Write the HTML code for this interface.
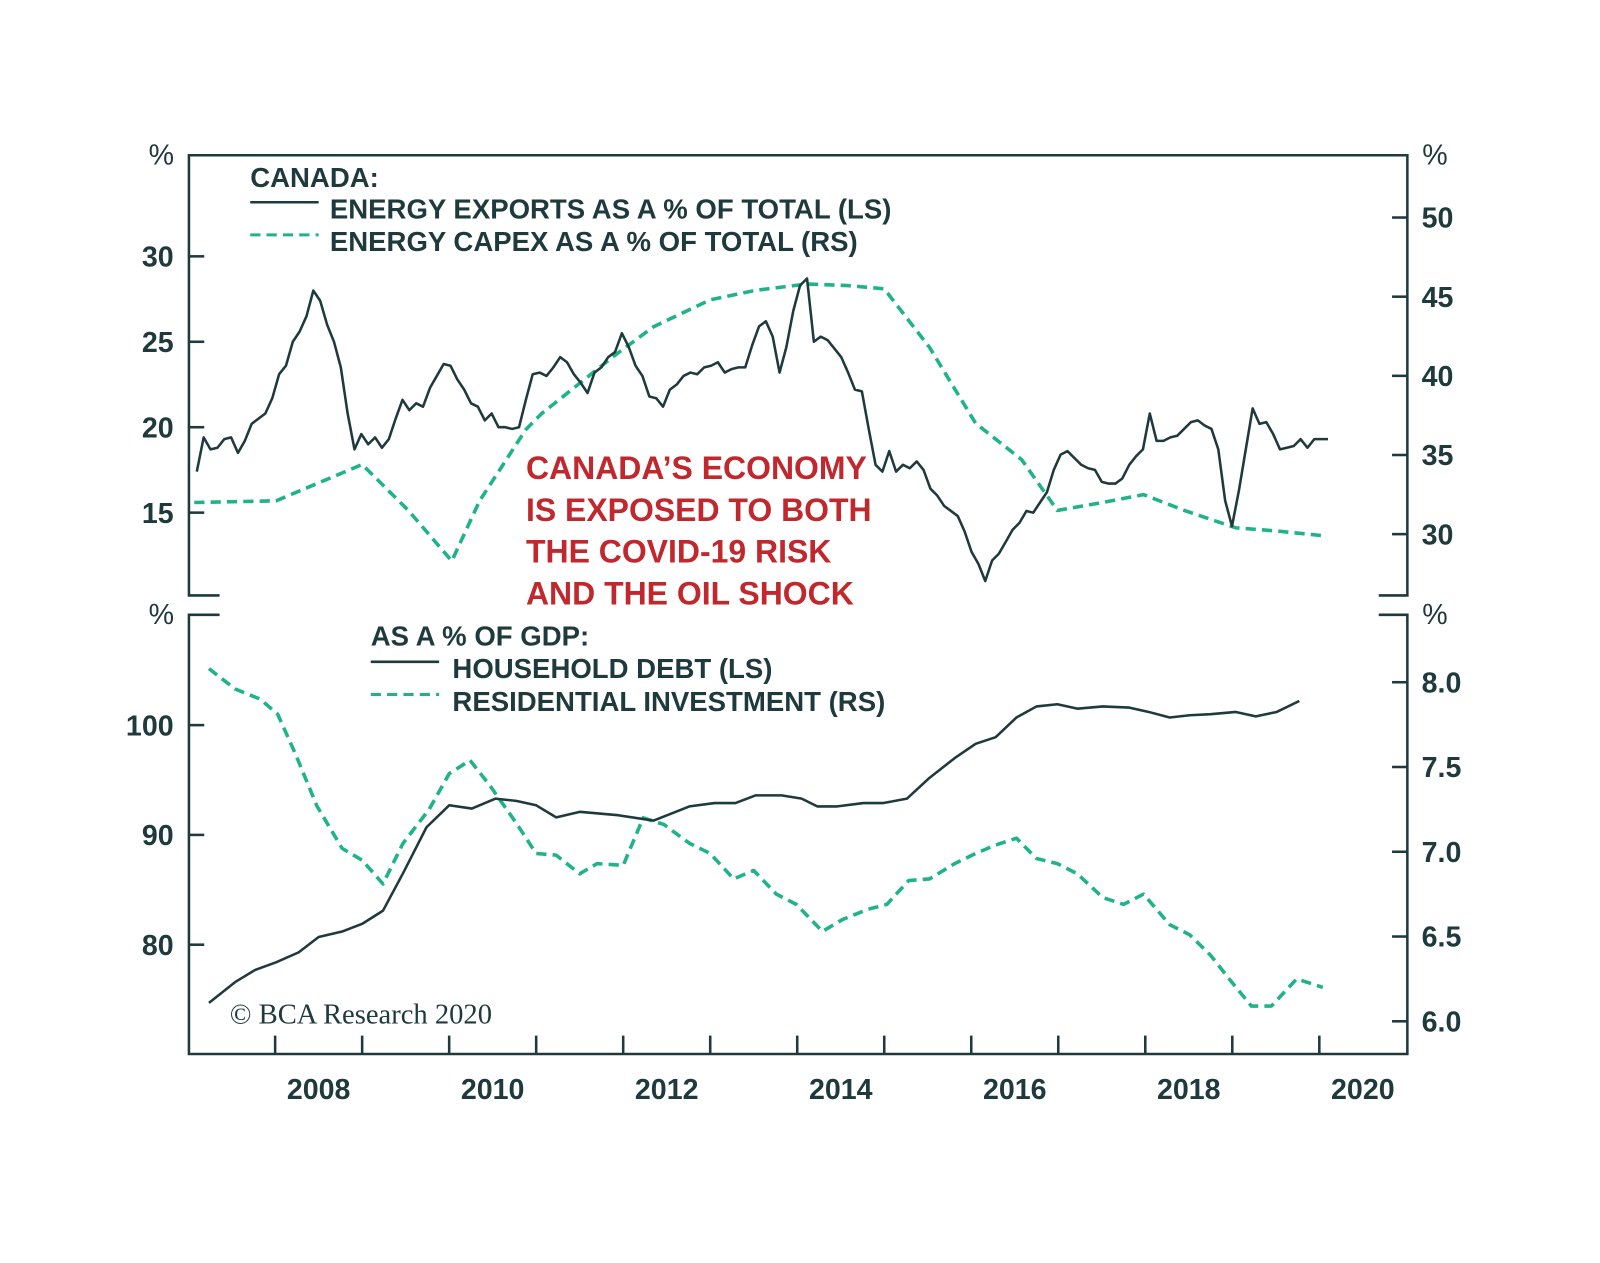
<!DOCTYPE html>
<html><head><meta charset="utf-8"><style>
html,body{margin:0;padding:0;background:#fff;}
svg{display:block;font-family:"Liberation Sans",sans-serif;}
</style></head><body>
<svg id="chart" width="1600" height="1263" viewBox="0 0 1600 1263" xmlns="http://www.w3.org/2000/svg">
<g transform="scale(1.0213)">
<g id="frame" stroke="#1f3a3d" stroke-width="2.5" fill="none">
<path d="M215,583 H185 V152 H1378 V583 H1350"/>
<path d="M215,602 H185 V1032 H1378 V602 H1350"/>
</g>
<g id="ticks" stroke="#1f3a3d" stroke-width="2.5"></g>
<g id="labels" fill="#1f3a3d" font-size="28" font-weight="bold"></g>
<g id="series" fill="none"></g>
<g fill="#1f3a3d" font-size="27" font-weight="bold">
<text x="245" y="183">CANADA:</text>
<line x1="245" y1="198" x2="312" y2="198" stroke="#1f3a3d" stroke-width="2.5"/>
<text x="323" y="214">ENERGY EXPORTS AS A % OF TOTAL (LS)</text>
<line x1="245" y1="230" x2="312" y2="230" stroke="#1fb389" stroke-width="3" stroke-dasharray="10,6"/>
<text x="323" y="246">ENERGY CAPEX AS A % OF TOTAL (RS)</text>
</g>
<g fill="#1f3a3d" font-size="27" font-weight="bold">
<text x="363" y="632">AS A % OF GDP:</text>
<line x1="363" y1="648" x2="430" y2="648" stroke="#1f3a3d" stroke-width="2.5"/>
<text x="443" y="664">HOUSEHOLD DEBT (LS)</text>
<line x1="363" y1="680" x2="430" y2="680" stroke="#1fb389" stroke-width="3" stroke-dasharray="10,6"/>
<text x="443" y="696">RESIDENTIAL INVESTMENT (RS)</text>
</g>
<g fill="#c0282d" font-size="31.3" font-weight="bold">
<text x="515" y="469">CANADA’S ECONOMY</text>
<text x="515" y="510">IS EXPOSED TO BOTH</text>
<text x="515" y="551">THE COVID-19 RISK</text>
<text x="515" y="592">AND THE OIL SHOCK</text>
</g>
<text x="225" y="1002" font-family="Liberation Serif,serif" font-size="28" fill="#1f3a3d">© BCA Research 2020</text>
</g>
</svg>
<script>
const exportsVals=[17.4,19.4,18.7,18.8,19.3,19.4,18.5,19.2,20.2,20.5,20.8,21.7,23.1,23.6,25.0,25.6,26.5,28.0,27.4,26.0,25.0,23.5,20.8,18.7,19.6,19.0,19.4,18.8,19.3,20.5,21.6,21.0,21.4,21.2,22.3,23.0,23.7,23.6,22.8,22.2,21.4,21.2,20.4,20.8,20.0,20.0,19.9,20.0,21.6,23.1,23.2,23.0,23.5,24.1,23.8,23.1,22.6,22.0,23.2,23.5,24.1,24.4,25.5,24.7,23.6,23.0,21.8,21.7,21.2,22.2,22.5,23.0,23.2,23.1,23.5,23.6,23.8,23.2,23.4,23.5,23.5,24.8,25.9,26.2,25.3,23.2,24.7,26.8,28.3,28.7,25.0,25.3,25.1,24.6,24.1,23.2,22.2,22.1,19.9,17.8,17.4,18.6,17.4,17.8,17.6,18.0,17.5,16.4,16.0,15.4,15.1,14.8,13.9,12.7,12.0,11.0,12.2,12.6,13.3,14.0,14.4,15.1,15.0,15.6,16.2,17.5,18.4,18.6,18.2,17.8,17.6,17.5,16.8,16.7,16.7,17.0,17.8,18.3,18.7,20.8,19.2,19.2,19.4,19.5,19.9,20.3,20.4,20.1,19.9,18.7,15.7,14.2,16.3,18.7,21.1,20.2,20.3,19.6,18.7,18.8,18.9,19.3,18.8,19.3,19.3,19.3];
const exportsStart=2006.6, exportsEnd=2019.6;
const capexYears=[2006.57,2007.51,2008.5,2009.03,2009.53,2009.85,2010.38,2010.56,2011.38,2011.85,2012.5,2013.02,2013.61,2014.08,2014.5,2015.02,2015.55,2016.08,2016.49,2017.01,2017.48,2017.95,2018.54,2019.01,2019.54];
const capexVals=[32.0,32.1,34.4,31.5,28.3,32.1,36.6,37.6,41.2,43.1,44.8,45.4,45.8,45.7,45.5,41.8,37.0,34.7,31.5,32.0,32.5,31.5,30.4,30.2,29.9];
const debtYears=[2006.74,2007.04,2007.27,2007.51,2007.77,2008.0,2008.27,2008.5,2008.74,2008.97,2009.24,2009.5,2009.76,2010.03,2010.27,2010.5,2010.73,2011.0,2011.44,2011.85,2012.26,2012.55,2012.79,2013.02,2013.32,2013.55,2013.73,2013.96,2014.26,2014.49,2014.76,2015.02,2015.31,2015.55,2015.78,2016.02,2016.25,2016.49,2016.72,2017.01,2017.31,2017.54,2017.78,2018.01,2018.25,2018.54,2018.77,2019.01,2019.27];
const debtVals=[74.7,76.6,77.7,78.4,79.3,80.7,81.2,81.9,83.1,86.5,90.7,92.7,92.4,93.3,93.1,92.7,91.6,92.1,91.8,91.3,92.6,92.9,92.9,93.6,93.6,93.3,92.6,92.6,92.9,92.9,93.3,95.2,97.0,98.3,98.9,100.7,101.7,101.9,101.5,101.7,101.6,101.2,100.7,100.9,101.0,101.2,100.8,101.2,102.2];
const resYears=[2006.74,2007.04,2007.33,2007.53,2007.74,2007.98,2008.27,2008.5,2008.74,2008.97,2009.27,2009.5,2009.74,2009.97,2010.27,2010.5,2010.73,2011.0,2011.2,2011.5,2011.73,2011.97,2012.26,2012.5,2012.77,2013.0,2013.26,2013.49,2013.79,2014.02,2014.31,2014.53,2014.78,2015.02,2015.31,2015.55,2015.78,2016.02,2016.25,2016.49,2016.72,2017.01,2017.25,2017.48,2017.78,2018.01,2018.25,2018.48,2018.72,2018.95,2019.24,2019.54];
const resVals=[8.08,7.96,7.90,7.81,7.57,7.27,7.02,6.95,6.81,7.05,7.25,7.46,7.54,7.39,7.17,6.99,6.98,6.87,6.93,6.92,7.20,7.16,7.05,6.99,6.84,6.89,6.75,6.69,6.53,6.60,6.66,6.69,6.83,6.84,6.93,6.99,7.04,7.08,6.96,6.93,6.87,6.73,6.69,6.75,6.57,6.51,6.39,6.24,6.09,6.09,6.25,6.20];
const topLeftTicks=[15,20,25,30];
const topRightTicks=[30,35,40,45,50];
const botLeftTicks=[80,90,100];
const botRightTicks=["6.0","6.5","7.0","7.5","8.0"];
const yearLabels=[2008,2010,2012,2014,2016,2018,2020];
const yearTicks=[2007.5,2008.5,2009.5,2010.5,2011.5,2012.5,2013.5,2014.5,2015.5,2016.5,2017.5,2018.5,2019.5];

const NS="http://www.w3.org/2000/svg";
const xS=y=>312+(y-2008)*85.2;
const yTL=v=>251+(30-v)*16.73;
const yTR=v=>213+(50-v)*15.5;
const yBL=v=>710+(100-v)*10.75;
const yBR=v=>668+(8-v)*166;
function mk(tag,attrs,parent){const e=document.createElementNS(NS,tag);for(const k in attrs)e.setAttribute(k,attrs[k]);parent.appendChild(e);return e;}
const T=document.getElementById('ticks'),L=document.getElementById('labels'),S=document.getElementById('series');
topLeftTicks.forEach(v=>{const y=yTL(v);
 const l=mk('line',{x1:185,x2:200,y1:y,y2:y},T);
 const t=mk('text',{x:170,y:y+10,'text-anchor':'end'},L);t.textContent=v;});
topRightTicks.forEach(v=>{const y=yTR(v);
 const l=mk('line',{x1:1363,x2:1378,y1:y,y2:y},T);
 const t=mk('text',{x:1392,y:y+10},L);t.textContent=v;});
botLeftTicks.forEach(v=>{const y=yBL(v);
 const l=mk('line',{x1:185,x2:200,y1:y,y2:y},T);
 const t=mk('text',{x:170,y:y+10,'text-anchor':'end'},L);t.textContent=v;});
botRightTicks.forEach(v=>{const y=yBR(+v);
 const l=mk('line',{x1:1363,x2:1378,y1:y,y2:y},T);
 const t=mk('text',{x:1392,y:y+10},L);t.textContent=v;});
yearTicks.forEach(v=>{const x=xS(v);
 const l=mk('line',{x1:x,x2:x,y1:1014,y2:1032},T);});
yearLabels.forEach(v=>{const t=mk('text',{x:xS(v),y:1076,'text-anchor':'middle'},L);t.textContent=v;});
[[158,161],[1405,161],[158,611],[1405,611]].forEach(p=>{const t=mk('text',{x:p[0],y:p[1],'text-anchor':'middle','font-weight':'normal'},L);t.textContent='%';});
function line(xs,vs,ys,dashed,name){
 const d=vs.map((v,i)=>(i?'L':'M')+xS(xs[i]).toFixed(1)+','+ys(v).toFixed(1)).join(' ');
 const p=mk('path',{d:d,stroke:dashed?'#1fb389':'#1f3a3d','stroke-width':dashed?3.5:2.5,'stroke-dasharray':dashed?'10,6':'none','stroke-linejoin':'round'},S);
 
 
}
const exportsYears=exportsVals.map((v,i)=>exportsStart+i*(exportsEnd-exportsStart)/(exportsVals.length-1));
line(capexYears,capexVals,yTR,true,'energy-capex-line');
line(exportsYears,exportsVals,yTL,false,'energy-exports-line');
line(resYears,resVals,yBR,true,'residential-investment-line');
line(debtYears,debtVals,yBL,false,'household-debt-line');
</script>
</body></html>
